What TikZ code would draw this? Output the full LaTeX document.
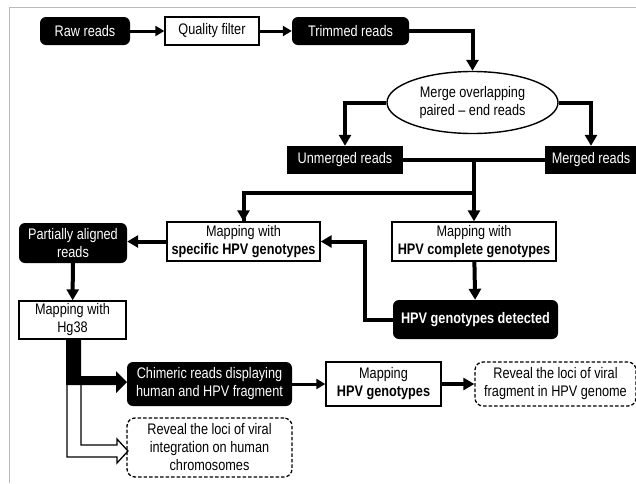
\documentclass[tikz,border=0pt]{standalone}
\usepackage{fontspec}
\setmainfont{Liberation Sans}[FakeStretch=0.83]
\usetikzlibrary{arrows.meta,shapes.geometric}

\begin{document}
\begin{tikzpicture}[x=1pt,y=-1pt,
    font=\fontsize{15.3}{18}\selectfont,
    every node/.style={align=center,inner sep=0pt},
    blk/.style={fill=black,text=white,rounded corners=6pt},
    blksq/.style={fill=black,text=white},
    wbox/.style={draw,line width=1.4pt,fill=white},
    dbox/.style={draw,line width=1.3pt,dash pattern=on 3.5pt off 2pt,rounded corners=8pt},
    conn/.style={line width=4pt,-{Triangle[length=11pt,width=12pt]}},
    tconn/.style={line width=3pt,-{Triangle[length=9pt,width=10pt]}}]
    \useasboundingbox (0,0) rectangle (636,483);

    % frame
    \draw [gray!55, line width=1pt] (9,483) -- (9,7) -- (637,7);

    % top row
    \node [blk, minimum width=90pt, minimum height=28pt] (raw) at (85,31) {Raw reads};
    \node [wbox, minimum width=94pt, minimum height=28pt] (qf) at (212,31) {Quality filter};
    \node [blk, minimum width=117pt, minimum height=28pt] (trim) at (350.5,31) {Trimmed reads};
    \node [draw, ellipse, line width=1.4pt, minimum width=171pt, minimum height=62pt] (merge) at (472.5,102.5) {Merge overlapping\\paired -- end reads};
    \node [blksq, minimum width=116pt, minimum height=28pt] (unm) at (345,160) {Unmerged reads};
    \node [blksq, minimum width=92pt, minimum height=28pt] (mrg) at (591,160) {Merged reads};

    % mapping
    \node [wbox, minimum width=153pt, minimum height=39pt] (spec) at (243.5,241.5) {Mapping with\\\textbf{specific HPV genotypes}};
    \node [wbox, minimum width=164pt, minimum height=39pt] (cmpl) at (474,241.5) {Mapping with\\\textbf{HPV complete genotypes}};
    \node [blk, minimum width=108pt, minimum height=40pt] (part) at (73,243) {Partially aligned\\reads};
    \node [wbox, minimum width=107pt, minimum height=38pt] (hg) at (72.5,320) {Mapping with\\Hg38};
    \node [blk, minimum width=165pt, minimum height=39pt] (det) at (475.5,319.5) {\textbf{HPV genotypes detected}};

    % bottom
    \node [blk, minimum width=165pt, minimum height=44pt] (chim) at (209.5,384) {Chimeric reads displaying\\human and HPV fragment};
    \node [wbox, minimum width=115pt, minimum height=44pt] (maph) at (383.5,384) {Mapping\\\textbf{HPV genotypes}};
    \node [dbox, minimum width=161pt, minimum height=44pt] (revv) at (555.5,384) {Reveal the loci of viral\\fragment in HPV genome};
    \node [dbox, minimum width=165pt, minimum height=59pt] (revh) at (209.5,447.5) {Reveal the loci of viral\\integration on human\\chromosomes};

    % connectors
    \draw [tconn] (raw) -- (qf);
    \draw [tconn] (qf) -- (trim);
    \draw [conn] (trim.east) -| (merge.north);
    \draw [conn] (merge.west) -| (unm.north);
    \draw [conn] (merge.east) -| (mrg.north);
    \draw [line width=4.5pt] (unm.east) -- (mrg.west);
    \coordinate (jn) at (cmpl.north |- unm.east);
    \coordinate (br) at (cmpl.north |- 0,193);
    \draw [conn] (jn) -- (cmpl.north);
    \draw [line width=4pt] (br) -| ([yshift=-2pt]spec.north);
    \draw [conn] (br -| spec.north) -- (spec.north);
    \draw [conn] (spec.west) -- (part.east |- spec.west);
    \draw [conn] (part) -- (hg);
    \draw [conn] (cmpl) -- (det);
    \draw [conn] (det.west) -- ++(-28,0) |- (spec.east);
    \draw [tconn] (chim) -- (maph);
    \draw [conn] (maph) -- (revv);

    % block arrows from Hg38
    \fill (66,339) -- (81,339) -- (81,376) -- (116,376) -- (116,371) -- (127,382) -- (116,393) -- (116,385) -- (66,385) -- cycle;
    \draw [line width=1.3pt] (67,385) -- (67,457) -- (117,457) -- (117,463) -- (128,451) -- (117,439) -- (117,445) -- (81,445) -- (81,385);
\end{tikzpicture}
\end{document}
